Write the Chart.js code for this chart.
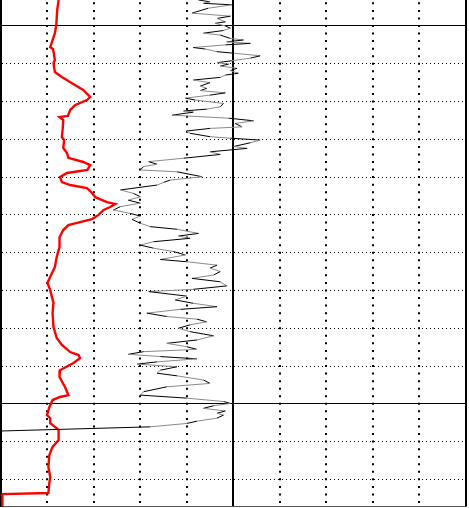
<!DOCTYPE html>
<html><head><meta charset="utf-8">
<script src="https://cdn.jsdelivr.net/npm/chart.js@4.4.1/dist/chart.umd.min.js"></script>
<style>html,body{margin:0;padding:0;background:#fff;}#wrap{width:469px;height:508px;}</style>
</head><body><div id="wrap"><canvas id="c" width="469" height="508"></canvas></div>
<script>
// Depth grid (minor every 1, major every 10) and value grid
const depthTicks = [2410,2411,2412,2413,2414,2415,2416,2417,2418,2419,2420,2421,2422];
const majorDepths = [2410,2420];
const valueTicks = [0,1,2,3,4,5,6,7,8,9,10];
const solidValues = [0,5,10];

// Red curve
const redDepth = [2409.31,2409.58,2409.97,2410.19,2410.56,2410.61,2410.90,2410.98,2411.22,2411.35,
  2411.51,2411.69,2411.88,2411.96,2412.09,2412.22,2412.38,2412.41,2412.49,2412.70,
  2412.94,2413.02,2413.23,2413.36,2413.49,2413.60,2413.68,2413.81,2413.89,2414.00,
  2414.13,2414.21,2414.29,2414.42,2414.53,2414.66,2414.71,2414.79,2414.87,2415.00,
  2415.11,2415.19,2415.27,2415.40,2415.59,2415.85,2416.11,2416.38,2416.64,2416.80,
  2416.99,2417.33,2417.60,2417.97,2418.26,2418.44,2418.63,2418.71,2418.79,2418.92,
  2419.11,2419.29,2419.56,2419.77,2419.82,2419.90,2420.09,2420.30,2420.38,2420.51,
  2420.69,2420.96,2421.14,2421.36,2421.67,2421.94,2422.10,2422.36,2422.39,2422.80];
const redValue = [1.24,1.21,1.19,1.16,1.06,1.12,1.16,1.13,1.16,1.31,
  1.52,1.77,1.92,1.85,1.60,1.49,1.44,1.26,1.34,1.33,
  1.31,1.36,1.34,1.42,1.45,1.77,1.92,1.86,1.42,1.27,
  1.31,1.49,1.85,1.96,2.03,2.28,2.46,2.35,2.21,2.10,
  1.96,1.70,1.45,1.34,1.26,1.26,1.20,1.16,1.06,1.00,
  1.06,1.13,1.11,1.13,1.20,1.31,1.49,1.67,1.70,1.56,
  1.27,1.26,1.38,1.45,1.27,1.11,1.04,0.99,1.06,1.06,
  1.24,1.24,1.11,1.04,1.02,1.06,1.04,1.02,0.03,0.03];

// Black/grey curve
const blackDepth = [2409.31,2409.36,2409.40,2409.44,2409.53,2409.66,2409.74,2409.80,2409.89,2409.93,
  2410.00,2410.06,2410.12,2410.19,2410.24,2410.33,2410.37,2410.42,2410.46,2410.50,
  2410.57,2410.61,2410.68,2410.72,2410.79,2410.85,2410.92,2410.97,2411.01,2411.06,
  2411.12,2411.18,2411.25,2411.30,2411.36,2411.43,2411.50,2411.59,2411.65,2411.71,
  2411.77,2411.83,2411.91,2411.96,2412.05,2412.14,2412.20,2412.25,2412.28,2412.36,
  2412.44,2412.51,2412.58,2412.67,2412.71,2412.78,2412.84,2412.93,2412.97,2413.02,
  2413.09,2413.19,2413.24,2413.33,2413.40,2413.50,2413.59,2413.66,2413.72,2413.81,
  2413.86,2413.99,2414.08,2414.14,2414.21,2414.34,2414.43,2414.52,2414.61,2414.69,
  2414.78,2414.87,2414.96,2415.03,2415.12,2415.22,2415.31,2415.38,2415.49,2415.56,
  2415.62,2415.71,2415.80,2415.88,2415.97,2416.06,2416.18,2416.24,2416.33,2416.41,
  2416.50,2416.59,2416.68,2416.77,2416.88,2416.97,2417.03,2417.15,2417.25,2417.34,
  2417.43,2417.50,2417.60,2417.69,2417.76,2417.83,2417.91,2418.00,2418.09,2418.20,
  2418.31,2418.40,2418.49,2418.56,2418.62,2418.69,2418.75,2418.81,2418.89,2418.95,
  2419.02,2419.11,2419.19,2419.26,2419.37,2419.46,2419.55,2419.68,2419.77,2419.85,
  2419.94,2419.99,2420.05,2420.12,2420.19,2420.25,2420.30,2420.38,2420.46,2420.52,
  2420.61,2420.72];
const blackValue = [4.25,4.50,4.36,4.97,4.46,4.11,4.94,4.65,4.83,4.61,
  4.83,4.94,4.79,4.36,4.72,4.94,5.22,4.86,5.37,4.83,
  4.14,4.40,4.65,5.01,5.58,5.37,4.97,4.65,4.90,4.72,
  5.08,4.94,5.11,4.83,4.72,4.14,4.50,4.29,4.43,4.29,
  4.83,4.50,3.97,4.18,4.79,4.72,4.43,3.93,4.14,3.68,
  4.90,5.44,5.04,5.19,4.50,4.00,4.07,4.50,4.94,5.58,
  5.37,5.01,5.30,4.50,4.72,3.93,3.18,3.36,3.07,3.00,
  3.79,4.33,3.64,3.50,3.36,2.57,2.85,3.00,2.74,3.00,
  2.57,2.42,2.78,3.00,2.82,3.00,3.21,3.79,4.25,3.82,
  4.07,3.28,3.00,3.28,3.71,3.97,3.43,4.00,4.65,4.50,
  4.72,4.58,4.11,4.72,4.86,4.14,3.18,4.00,3.75,4.14,
  4.65,3.86,3.14,3.57,4.22,4.43,4.07,3.82,4.07,4.58,
  4.22,3.57,4.00,4.22,3.07,2.74,3.43,4.22,3.36,2.93,
  3.79,3.43,3.36,3.79,4.36,4.50,3.57,3.07,3.00,4.00,
  4.79,4.94,4.58,4.36,4.83,4.65,4.79,4.65,4.22,4.00,
  3.21,0.00];

const toPts = (ds, vs) => ds.map((d, i) => ({x: vs[i], y: d}));

new Chart(document.getElementById('c'), {
  type: 'scatter',
  data: {
    datasets: [
      {
        data: toPts(blackDepth, blackValue),
        showLine: true, pointRadius: 0, borderWidth: 1, tension: 0,
        borderColor: '#000',
        segment: { borderColor: ctx => (ctx.p0DataIndex % 2 === 0 ? '#000' : '#8a8a8a') }
      },
      {
        data: toPts(redDepth, redValue),
        showLine: true, pointRadius: 0, borderWidth: 2.4, tension: 0,
        borderColor: '#ff0000'
      }
    ]
  },
  options: {
    responsive: false, animation: false, devicePixelRatio: 1,
    layout: { padding: { left: 1, right: 3.5, top: 0, bottom: 2 } },
    plugins: { legend: { display: false }, tooltip: { enabled: false } },
    scales: {
      x: {
        type: 'linear', min: 0, max: 10,
        afterBuildTicks: s => { s.ticks = valueTicks.map(v => ({value: v})); },
        ticks: { display: false },
        grid: {
          drawTicks: false,
          color: '#000',
          lineWidth: c => 2
        },
        border: {
          display: true, color: '#555', width: 1,
          dash: c => (c.tick && !solidValues.includes(c.tick.value)) ? [2, 5.556] : [],
          dashOffset: 5.22
        }
      },
      y: {
        type: 'linear', reverse: true, min: 2409.312, max: 2422.705,
        afterBuildTicks: s => { s.ticks = depthTicks.map(v => ({value: v})); },
        ticks: { display: false },
        grid: {
          drawTicks: false,
          color: '#000',
          lineWidth: 1
        },
        border: {
          display: true, color: '#000', width: 2,
          dash: c => (c.tick && !majorDepths.includes(c.tick.value)) ? [1, 3] : [],
          dashOffset: 0
        }
      }
    }
  }
});
</script>
</body></html>
